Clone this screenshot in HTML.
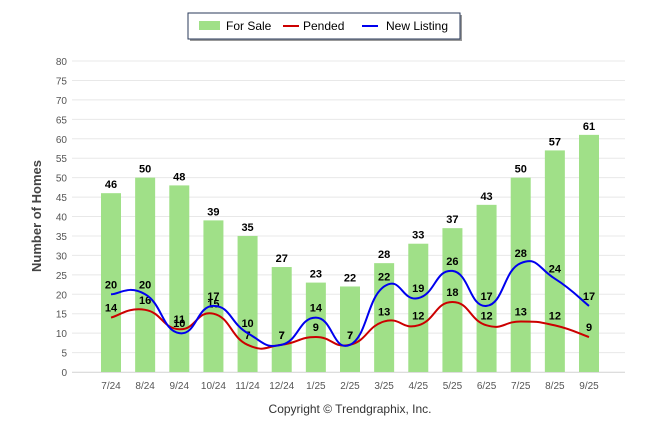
<!DOCTYPE html>
<html><head><meta charset="utf-8"><style>
body{margin:0;background:#fff;font-family:"Liberation Sans",sans-serif}
</style></head><body>
<svg id="c" width="646" height="434" xmlns="http://www.w3.org/2000/svg"></svg>
<script>
const categories=["7/24","8/24","9/24","10/24","11/24","12/24","1/25","2/25","3/25","4/25","5/25","6/25","7/25","8/25","9/25"];
const forSale=[46,50,48,39,35,27,23,22,28,33,37,43,50,57,61];
const pended=[14,16,11,15,7,7,9,7,13,12,18,12,13,12,9];
const newListing=[20,20,10,17,10,7,14,7,22,19,26,17,28,24,17];
const yTicks=[0,5,10,15,20,25,30,35,40,45,50,55,60,65,70,75,80];
const NS="http://www.w3.org/2000/svg";
const svg=document.getElementById('c');
function y(v){return 372-v*(372-61)/80;}
function x(i){return 111+i*(589-111)/14;}
function el(t,a,p){const e=document.createElementNS(NS,t);for(const k in a)e.setAttribute(k,a[k]);(p||svg).appendChild(e);return e;}
// grid
yTicks.forEach(v=>{
 const g=el('line',{x1:72,x2:625,y1:y(v),y2:y(v),stroke:'#e8e8e8','stroke-width':1});
 
 
 const t=el('text',{x:67,y:y(v)+4,'text-anchor':'end','font-size':10,fill:'#555'});t.textContent=v;
 
 
});
el('line',{x1:72,x2:625,y1:372.5,y2:372.5,stroke:'#ddd'});
const yt=el('text',{x:41,y:216,'text-anchor':'middle','font-size':13,'font-weight':'bold',fill:'#444',transform:'rotate(-90 41 216)'});yt.textContent='Number of Homes';


// bars
forSale.forEach((v,i)=>{
 const b=el('rect',{x:x(i)-10,y:y(v),width:20,height:372-y(v),fill:'#a0e088'});
 
 
 const t=el('text',{x:x(i),y:y(v)-5,'text-anchor':'middle','font-size':11,'font-weight':'bold',fill:'#000'});t.textContent=v;
 
 
 const c=el('text',{x:x(i),y:389,'text-anchor':'middle','font-size':10,fill:'#555'});c.textContent=categories[i];
 
 
});
function spline(vals){
 const p=vals.map((v,i)=>[x(i),y(v)]);let d='M'+p[0][0]+','+p[0][1];
 for(let i=0;i<p.length-1;i++){
  const p0=p[Math.max(0,i-1)],p1=p[i],p2=p[i+1],p3=p[Math.min(p.length-1,i+2)];
  const s=1/6*1.5;
  d+=' C'+(p1[0]+(p2[0]-p0[0])*s)+','+(p1[1]+(p2[1]-p0[1])*s)+' '+(p2[0]-(p3[0]-p1[0])*s)+','+(p2[1]-(p3[1]-p1[1])*s)+' '+p2[0]+','+p2[1];
 }
 return d;
}
function series(vals,color,name){
 const l=el('path',{d:spline(vals),fill:'none',stroke:color,'stroke-width':2});
 
 
 vals.forEach((v,i)=>{
  const t=el('text',{x:x(i),y:y(v)-6,'text-anchor':'middle','font-size':11,'font-weight':'bold',fill:'#000'});t.textContent=v;
  
  
 });
}
series(pended,'#cc0000','pended');
series(newListing,'#0000ee','new-listing');
const cp=el('text',{x:350,y:413,'text-anchor':'middle','font-size':12,fill:'#333'});cp.textContent='Copyright © Trendgraphix, Inc.';


// legend
const lg=el('g',{});


el('rect',{x:190,y:15,width:272,height:26,fill:'#999'},lg);
el('rect',{x:188,y:13,width:272,height:26,fill:'#fff',stroke:'#2a3a5a','stroke-width':1},lg);
el('rect',{x:199,y:21,width:21,height:9,fill:'#a0e088'},lg);
el('line',{x1:283,x2:299,y1:26,y2:26,stroke:'#cc0000','stroke-width':2},lg);
el('line',{x1:362,x2:378,y1:26,y2:26,stroke:'#0000ee','stroke-width':2},lg);
[[226,'For Sale','legend-for-sale'],[303,'Pended','legend-pended'],[386,'New Listing','legend-new-listing']].forEach(a=>{
 const t=el('text',{x:a[0],y:30,'font-size':12,fill:'#000'},lg);t.textContent=a[1];
 
 
});
</script>
</body></html>
